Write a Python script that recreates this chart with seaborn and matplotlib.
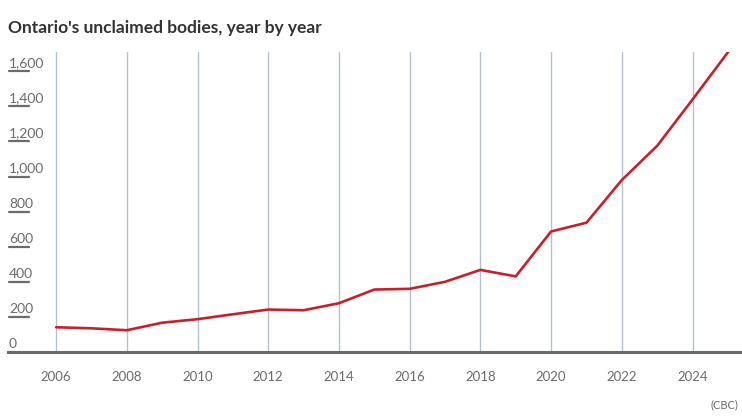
import matplotlib
matplotlib.use("Agg")
import matplotlib.pyplot as plt
import matplotlib.transforms as mtransforms
import pandas as pd
import seaborn as sns

# data
years = list(range(2006, 2026))
unclaimed = [141, 135, 124, 167, 187, 215, 242, 238, 278, 356,
             360, 400, 468, 431, 687, 737, 980, 1175, 1439, 1708]
y_ticks = [0, 200, 400, 600, 800, 1000, 1200, 1400, 1600]
x_ticks = list(range(2006, 2025, 2))

df = pd.DataFrame({"year": years, "bodies": unclaimed})

sns.set_style("white")
plt.rcParams["font.family"] = ["Lato", "DejaVu Sans"]

W, H = 742, 419
fig = plt.figure(figsize=(W / 100, H / 100), dpi=100)
ax = fig.add_axes([8 / W, (H - 352) / H, (W - 8) / W, 300 / H])

grey = "#6b6b6b"
grid_col = "#b5c2cb"

for x in x_ticks:
    ax.axvline(x, color=grid_col, lw=1, zorder=1)

sns.lineplot(data=df, x="year", y="bodies", color="#c8202b", lw=1.9, ax=ax, zorder=3)

ax.set_xlim(2004.64, 2025.4)
ax.set_ylim(0, 1710)

for s in ["top", "left", "right"]:
    ax.spines[s].set_visible(False)
ax.spines["bottom"].set_color(grey)
ax.spines["bottom"].set_linewidth(2.2)

ax.set_xticks(x_ticks)
ax.set_xticklabels([str(x) for x in x_ticks])
ax.tick_params(axis="x", length=5, width=1.5, color=grey, labelcolor=grey,
               labelsize=9.5, pad=9)
for lab in ax.get_xticklabels():
    lab.set_family(["Liberation Sans Narrow", "Lato", "DejaVu Sans"])
ax.set_yticks([])
ax.set_xlabel("")
ax.set_ylabel("")

# y labels sitting above short tick bars
txt_tr = mtransforms.offset_copy(ax.get_yaxis_transform(), fig=fig, x=0, y=4, units="dots")
for v in y_ticks:
    lab = f"{v:,}"
    ax.text(1 / (W - 8), v, lab, transform=txt_tr, ha="left", va="baseline",
            fontsize=10, color=grey)
    if v > 0:
        ax.axhline(v, xmin=1 / (W - 8), xmax=21 / (W - 8), color=grey, lw=1.6, zorder=2)

fig.text(8 / W, 1 - 28 / H, "Ontario's unclaimed bodies, year by year",
         fontsize=12.5, fontweight="bold", color="#333333", va="center", ha="left")
fig.text(738 / W, 1 - 405 / H, "(CBC)", fontsize=8, color=grey, ha="right", va="center",
         family=["Liberation Sans Narrow", "Lato", "DejaVu Sans"])

fig.savefig("out.png", dpi=100)
